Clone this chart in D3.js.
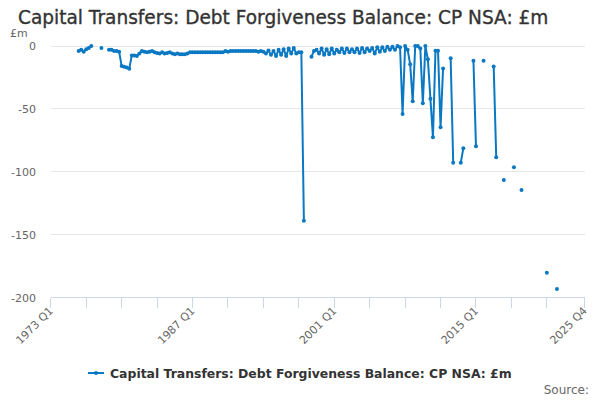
<!DOCTYPE html>
<html><head><meta charset="utf-8">
<script src="https://cdn.jsdelivr.net/npm/d3@7"></script>
<style>body{margin:0;background:#fff}svg{display:block}text{font-family:'DejaVu Sans',sans-serif}</style>
</head><body><svg id="c" width="600" height="400"></svg>
<script>
const title = "Capital Transfers: Debt Forgiveness Balance: CP NSA: £m";
const seriesName = "Capital Transfers: Debt Forgiveness Balance: CP NSA: £m";
const startYear = 1973, nQuarters = 212;
const yTicks = [0, -50, -100, -150, -200];
const xLabelIdx = [0, 56, 112, 168, 211];
// known values by quarter index (0 = 1973 Q1); unlisted quarters are missing
const pointIdx = [11,12,13,14,15,16,20,23,24,25,26,27,28,29,30,31,32,33,34,35,
 36,37,38,39,40,41,42,43,44,45,46,47,48,49,50,51,52,53,54,
 55,56,57,58,59,60,61,62,63,64,65,66,67,68,69,70,71,72,73,74,75,76,77,78,79,80,81,82,83,84,
 85,86,87,88,89,90,91,92,93,94,95,96,97,98,99,100,
 103,104,105,106,107,108,109,110,111,112,113,114,115,116,117,118,119,120,121,122,123,124,125,126,127,128,129,130,131,132,133,134,135,136,137,138,
 139,140,141,142,143,144,145,146,147,148,149,150,151,152,153,154,155,
 158,159,162,163,167,168,171,175,176,179,183,186,196,200];
const pointVal = [-4,-3,-4.5,-2.5,-1.5,0,-1.5,-3,-3,-4,-4,-4.5,-16,-16.5,-17,-18,-7.5,-7.5,-8,-6,
 -4,-4.5,-5,-4.5,-4,-5,-5.5,-6,-5,-6,-5.5,-5,-6,-6.5,-6,-6.5,-6.5,-6.5,-6,
 -5,-5,-5,-5,-5,-5,-5,-5,-5,-5,-5,-5,-5,-5,-4,-4.5,-4,-4,-4,-4,-4,-4,-4,-4,-4,-4,-4,-4.5,-4,-4.5,
 -6,-3.5,-7,-4,-8,-3,-7,-2.5,-8,-2,-6,-1.5,-6,-5,-5,-139,
 -8.5,-4,-3,-6,-2,-7,-2.5,-6.5,-2,-6,-3,-5,-2,-5.5,-2,-5,-2.5,-5,-2,-5.5,-1.5,-5,-2,-4,-1.5,-6,-1,-4.5,-1,-4,-0.5,-3,-0.5,-3,0,-1,
 -54,0,-3,-14.6,-44,0,0,-2,-45.6,0,-10.6,-42,-72.6,-3.7,-3.7,-64.7,-17.8,
 -9.8,-92.8,-92.8,-81.4,-11.7,-79.8,-11.7,-16.4,-88.5,-106.6,-96.5,-114.5,-180.3,-193.2];

const color = "#0a78c2";
const data = d3.range(nQuarters).map(i => ({i, v: null}));
pointIdx.forEach((k, j) => data[k].v = pointVal[j]);
const qLabel = i => `${startYear + Math.floor(i/4)} Q${i%4+1}`;

const svg = d3.select("#c");
const x = d3.scaleLinear().domain([0, nQuarters-1]).range([50.8, 584.8]);
const y = d3.scaleLinear().domain([-200, 0]).range([297.5, 46]);

function fit(sel, w, base) {
  sel.style("font-size", base + "px");
  const len = sel.node().getComputedTextLength();
  sel.style("font-size", (base * w / len).toFixed(2) + "px");
}

const t = svg.append("text").attr("x", 18).attr("y", 24).attr("fill", "#333")
  .attr("stroke", "#333").attr("stroke-width", 0.35).text(title);
fit(t, 531, 17);
svg.append("text").attr("x", 10).attr("y", 37).attr("fill", "#666")
  .style("font-size", "11px").text("£m");

// gridlines
svg.append("g").selectAll("line").data(yTicks.slice(0, -1)).join("line")
  .attr("x1", 50.8).attr("x2", 584.8).attr("y1", d => y(d)).attr("y2", d => y(d))
  .attr("stroke", "#e6e6e6").attr("stroke-width", 1).attr("shape-rendering", "crispEdges");
svg.append("g").selectAll("text").data(yTicks).join("text")
  .attr("x", 36).attr("y", d => y(d) + 4).attr("text-anchor", "end").attr("fill", "#666")
  .style("font-size", "11px").text(d => d);

// x axis
const xTickIdx = d3.range(0, 197, 14).concat([nQuarters-1]);
svg.append("line").attr("x1", 50.8).attr("x2", 584.8).attr("y1", y(-200)).attr("y2", y(-200))
  .attr("stroke", "#ccd6eb").attr("shape-rendering", "crispEdges");
svg.append("g").selectAll("line").data(xTickIdx).join("line")
  .attr("x1", d => x(d)).attr("x2", d => x(d)).attr("y1", y(-200)).attr("y2", y(-200) + 10)
  .attr("stroke", "#ccd6eb").attr("shape-rendering", "crispEdges");
svg.append("g").selectAll("text").data(xLabelIdx).join("text")
  .attr("transform", d => `translate(${x(d) + 3},${y(-200) + 14}) rotate(-45)`)
  .attr("text-anchor", "end").attr("fill", "#666")
  .style("font-size", "11px").text(d => qLabel(d));

// series
const line = d3.line().defined(d => d.v !== null).x(d => x(d.i)).y(d => y(d.v));
svg.append("path").datum(data).attr("d", line).attr("fill", "none")
  .attr("stroke", color).attr("stroke-width", 2).attr("stroke-linejoin", "round");
svg.append("g").selectAll("circle").data(data.filter(d => d.v !== null)).join("circle")
  .attr("cx", d => x(d.i)).attr("cy", d => y(d.v)).attr("r", 2).attr("fill", color);

// legend
const lg = svg.append("g");
lg.append("line").attr("x1", 88).attr("x2", 104).attr("y1", 373).attr("y2", 373)
  .attr("stroke", color).attr("stroke-width", 2);
lg.append("circle").attr("cx", 96).attr("cy", 373).attr("r", 2).attr("fill", color);
const lt = lg.append("text").attr("x", 110).attr("y", 377.5).attr("fill", "#333")
  .style("font-weight", "bold").text(seriesName);
fit(lt, 402, 12);

svg.append("text").attr("x", 589).attr("y", 394).attr("text-anchor", "end").attr("fill", "#666")
  .style("font-size", "12px").text("Source:");
</script></body></html>
